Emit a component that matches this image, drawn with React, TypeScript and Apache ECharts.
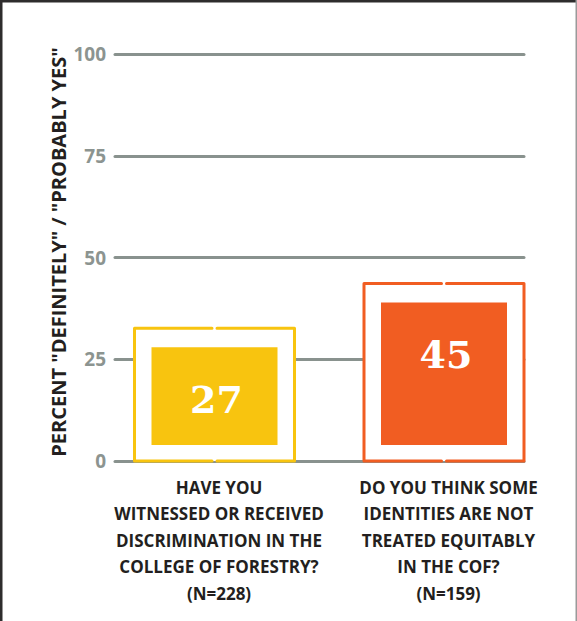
import React, { useEffect, useRef } from "react";
import * as echarts from "echarts";

const categories = [
  "HAVE YOU\nWITNESSED OR RECEIVED\nDISCRIMINATION IN THE\nCOLLEGE OF FORESTRY?\n(N=228)",
  "DO YOU THINK SOME\nIDENTITIES ARE NOT\nTREATED EQUITABLY\nIN THE COF?\n(N=159)",
];
const values = [27, 45];
// height of the outlined frame around each value box, as drawn in the picture
const frameHeights = [32.6, 43.6];
const colors = ["#f8c40f", "#f15d22"];
const yTicks = [0, 25, 50, 75, 100];
const yTitle = 'PERCENT "DEFINITELY" / "PROBABLY YES"';

export default function App() {
  const ref = useRef<HTMLDivElement>(null);
  useEffect(() => {
    if (!ref.current) return;
    const chart = echarts.init(ref.current, null, { renderer: "svg" });
    const gridV = { top: 54, bottom: 160 };
    const option: any = {
      animation: false,
      backgroundColor: "#ffffff",
      grid: [
        { left: 115, right: 53, ...gridV },
        { left: 99.75, right: 18.25, ...gridV },
      ],
      xAxis: [
        { type: "category", gridIndex: 0, data: categories, show: false },
        {
          type: "category",
          gridIndex: 1,
          data: categories,
          axisLine: { show: false },
          axisTick: { show: false },
          axisLabel: {
            interval: 0,
            margin: 13,
            color: "#231f20",
            fontFamily: "Open Sans",
            fontWeight: "bold",
            fontSize: 17,
            lineHeight: 26.5,
            padding: [0, 0, 0, 9],
          },
        },
      ],
      yAxis: [
        {
          type: "value",
          gridIndex: 0,
          min: 0,
          max: 100,
          interval: 25,
          axisLine: { show: false },
          axisTick: { show: false },
          axisLabel: {
            margin: 9,
            color: "#8c9490",
            fontFamily: "Open Sans",
            fontWeight: "bold",
            fontSize: 19,
            formatter: (v: number) => (yTicks.includes(v) ? String(v) : ""),
          },
          splitLine: {
            show: true,
            lineStyle: { color: "#89928e", width: 3, cap: "round" },
          },
        },
        { type: "value", gridIndex: 1, min: 0, max: 100, show: false },
      ],
      series: [
        {
          type: "custom",
          xAxisIndex: 1,
          yAxisIndex: 1,
          data: values.map((v, i) => [i, frameHeights[i], v]),
          renderItem: (params: any, api: any) => {
            const idx = api.value(0);
            const fv = api.value(1);
            const val = api.value(2);
            const [cx, yTop] = api.coord([idx, fv]);
            const [, y0] = api.coord([idx, 0]);
            const w = 160;
            const h = w / 2;
            const gap = 2.5;
            const c = colors[idx];
            const innerTop = yTop + 19;
            const innerBottom = y0 - 16;
            return {
              type: "group",
              children: [
                {
                  type: "rect",
                  shape: { x: cx - h, y: yTop, width: w, height: y0 - yTop },
                  style: { fill: "#ffffff" },
                },
                {
                  type: "polyline",
                  shape: {
                    points: [
                      [cx - gap, yTop],
                      [cx - h, yTop],
                      [cx - h, y0],
                      [cx - gap, y0],
                    ],
                  },
                  style: { stroke: c, lineWidth: 3, fill: "none", lineCap: "round", lineJoin: "round" },
                },
                {
                  type: "polyline",
                  shape: {
                    points: [
                      [cx + gap, yTop],
                      [cx + h, yTop],
                      [cx + h, y0],
                      [cx + gap, y0],
                    ],
                  },
                  style: { stroke: c, lineWidth: 3, fill: "none", lineCap: "round", lineJoin: "round" },
                },
                {
                  type: "rect",
                  shape: {
                    x: cx - h + 17,
                    y: innerTop,
                    width: w - 34,
                    height: innerBottom - innerTop,
                  },
                  style: { fill: c },
                },
                {
                  type: "text",
                  x: cx + 2,
                  y: innerTop + 52,
                  style: {
                    text: String(val),
                    fill: "#ffffff",
                    fontFamily: "DejaVu Serif",
                    fontSize: 38,
                    fontWeight: "bold",
                    align: "center",
                    verticalAlign: "middle",
                  },
                },
              ],
            };
          },
        },
      ],
      graphic: [
        {
          type: "text",
          x: 58,
          y: 252,
          rotation: Math.PI / 2,
          style: {
            text: yTitle,
            fill: "#231f20",
            fontFamily: "Open Sans",
            fontWeight: "bold",
            fontSize: 20,
            align: "center",
            verticalAlign: "middle",
          },
        },
        { type: "rect", shape: { x: 0, y: 0, width: 577, height: 2.5 }, style: { fill: "#2e2c2d" } },
        { type: "rect", shape: { x: 0, y: 0, width: 2.5, height: 621 }, style: { fill: "#2e2c2d" } },
        { type: "rect", shape: { x: 575.5, y: 0, width: 1.5, height: 621 }, style: { fill: "#9a9a9a" } },
      ],
    };
    chart.setOption(option);
    return () => chart.dispose();
  }, []);
  return (
    <div
      ref={ref}
      style={{ position: "fixed", left: 0, top: 0, width: 577, height: 621 }}
    />
  );
}
